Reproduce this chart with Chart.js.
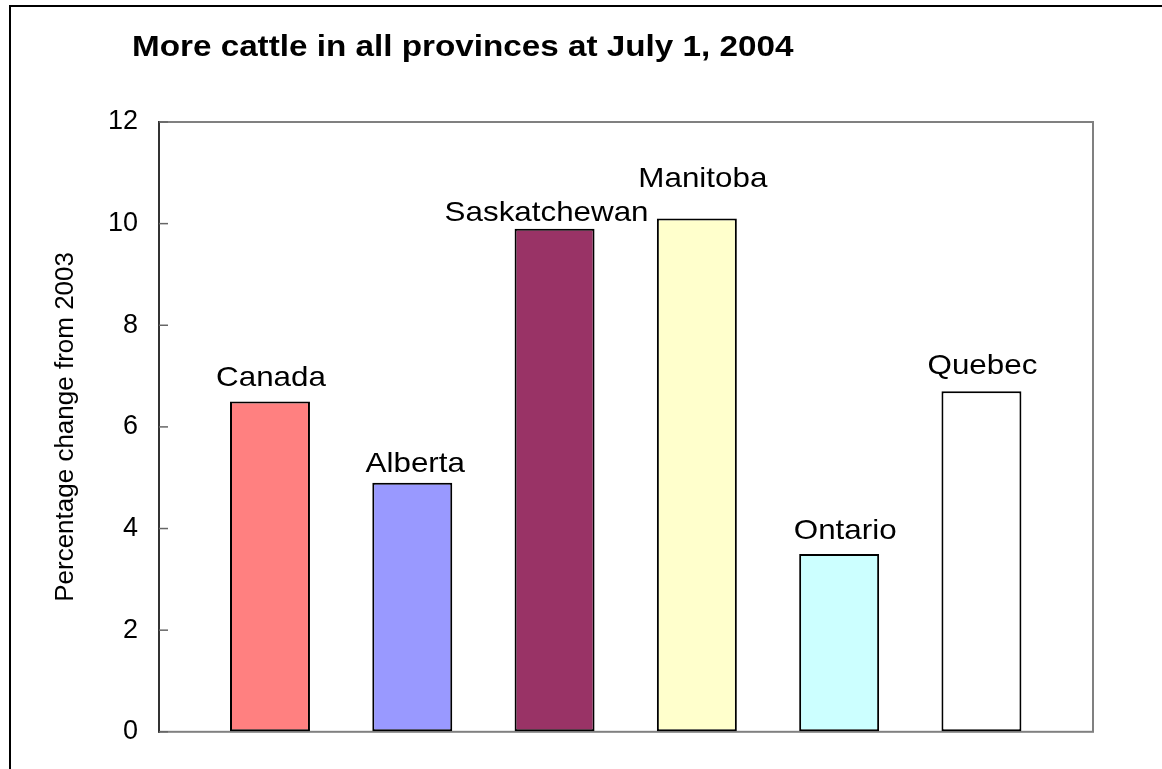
<!DOCTYPE html>
<html>
<head>
<meta charset="utf-8">
<script src="https://cdn.jsdelivr.net/npm/chart.js@4/dist/chart.umd.min.js"></script>
<style>
  html, body { margin: 0; padding: 0; background: #fff; }
  #wrap { position: relative; width: 1162px; height: 769px; overflow: hidden; }
  #frame { position: absolute; left: 9px; top: 5px; width: 2000px; height: 2000px;
           border-left: 2px solid #000; border-top: 2px solid #000; }
  canvas { position: absolute; left: 0; top: 0; }
</style>
</head>
<body>
<div id="wrap">
  <div id="frame"></div>
  <canvas id="c" width="1162" height="769"></canvas>
</div>
<script>
// ---- data ----
const chartTitle = "More cattle in all provinces at July 1, 2004";
const yAxisTitle = "Percentage change from 2003";
const categories = ["Canada", "Alberta", "Saskatchewan", "Manitoba", "Ontario", "Quebec"];
const values = [6.5, 4.9, 9.9, 10.1, 3.5, 6.7];
const yTicks = [0, 2, 4, 6, 8, 10, 12];

// ---- styles ----
const barColors = ["#FF8080", "#9999FF", "#993366", "#FFFFCC", "#CCFFFF", "#FFFFFF"];
const labelNudge = [
  {dx: 1, gap: 15}, {dx: 3, gap: 11}, {dx: -8, gap: 8},
  {dx: 6, gap: 32}, {dx: 6, gap: 15}, {dx: 1, gap: 17}
];
const STRETCH = 1.12;
const TITLE_STRETCH = 1.108;
const FONT = "'Liberation Sans', Arial, sans-serif";

const points = values.map((v, i) => ({x: i, y: v}));

const framePlugin = {
  id: 'framePlugin',
  beforeDatasetsDraw(chart) {
    const {ctx, chartArea: a} = chart;
    ctx.save();
    ctx.strokeStyle = '#808080';
    ctx.lineWidth = 2;
    ctx.strokeRect(a.left, a.top, a.right - a.left, a.bottom - a.top);
    // left axis line
    ctx.strokeStyle = '#333';
    ctx.beginPath();
    ctx.moveTo(a.left, a.top - 1);
    ctx.lineTo(a.left, a.bottom + 1);
    ctx.stroke();
    // inward tick marks
    const ys = chart.scales.y;
    ctx.strokeStyle = '#666';
    ctx.lineWidth = 1.5;
    yTicks.forEach(t => {
      const py = ys.getPixelForValue(t);
      ctx.beginPath();
      ctx.moveTo(a.left, py);
      ctx.lineTo(a.left + 9, py);
      ctx.stroke();
    });
    ctx.restore();
  },
  afterDraw(chart) {
    const {ctx} = chart;
    ctx.save();
    // title
    ctx.fillStyle = '#000';
    ctx.font = "bold 30px " + FONT;
    ctx.textBaseline = 'alphabetic';
    ctx.textAlign = 'left';
    ctx.translate(132, 56);
    ctx.scale(TITLE_STRETCH, 1);
    ctx.fillText(chartTitle, 0, 0);
    ctx.restore();
    // bar labels
    const meta = chart.getDatasetMeta(0);
    meta.data.forEach((el, i) => {
      const n = labelNudge[i];
      ctx.save();
      ctx.fillStyle = '#000';
      ctx.font = "28px " + FONT;
      ctx.textAlign = 'center';
      ctx.textBaseline = 'alphabetic';
      ctx.translate(el.x + n.dx, el.y - n.gap);
      ctx.scale(STRETCH, 1);
      ctx.fillText(categories[i], 0, 0);
      ctx.restore();
    });
  }
};

new Chart(document.getElementById('c'), {
  type: 'bar',
  data: {
    datasets: [{
      data: points,
      backgroundColor: barColors,
      borderColor: '#000',
      borderWidth: 2,
      borderSkipped: false,
      barPercentage: 0.562,
      categoryPercentage: 1.0
    }]
  },
  options: {
    responsive: false,
    animation: false,
    layout: { padding: { left: 0, right: 69, top: 122, bottom: 37 } },
    plugins: { legend: { display: false }, tooltip: { enabled: false }, title: { display: false } },
    scales: {
      x: {
        type: 'linear',
        display: false,
        min: -0.78,
        max: 5.784,
        offset: false,
        afterBuildTicks: s => { s.ticks = categories.map((c, i) => ({value: i})); }
      },
      y: {
        min: 0,
        max: 12,
        afterBuildTicks: s => { s.ticks = yTicks.map(v => ({value: v})); },
        afterFit: s => { s.width = 159; },
        grid: { display: true, drawOnChartArea: false, drawTicks: false },
        border: { display: false },
        ticks: {
          color: '#000',
          padding: 21,
          font: { family: FONT, size: 27 }
        },
        title: {
          display: true,
          text: yAxisTitle,
          color: '#000',
          font: { family: FONT, size: 26 },
          padding: { top: 50, bottom: 0 }
        }
      }
    }
  },
  plugins: [framePlugin]
});
</script>
</body>
</html>
